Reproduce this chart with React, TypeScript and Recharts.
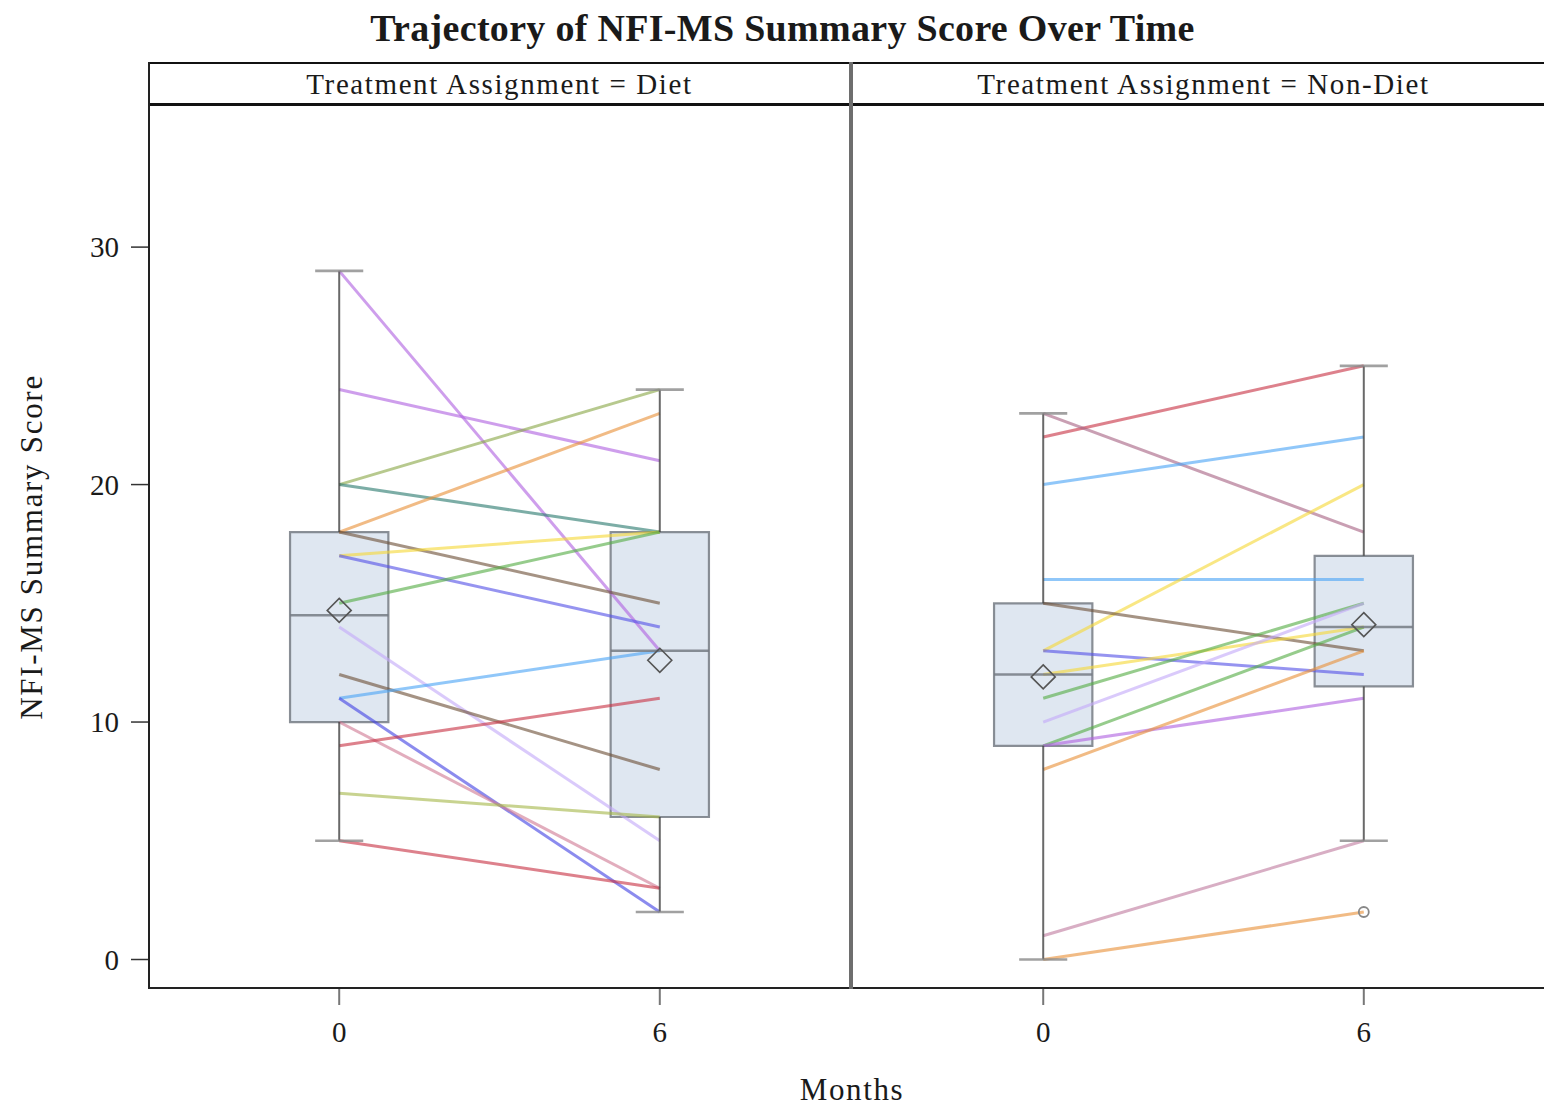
import React from 'react';
import {
  ComposedChart, Line, Scatter, XAxis, YAxis, ReferenceArea, ReferenceLine,
} from 'recharts';

const SERIF = "'Liberation Serif', 'DejaVu Serif', serif";

const MONTHS = [0, 6];
const Y_TICKS = [0, 10, 20, 30];

// ── Subject trajectories (score at month 0 → month 6) ──
const DIET_M0 = [29, 24, 20, 20, 18, 18, 17, 17, 15, 14, 12, 11, 11, 10, 9, 7, 5];
const DIET_M6 = [13, 21, 24, 18, 23, 15, 18, 14, 18, 5, 8, 13, 2, 3, 11, 6, 3];
const DIET_COLORS = [
  '#b063e0', '#b063e0', '#8ba848', '#2b7b70', '#e8923a', '#6e5038',
  '#f5d838', '#5552e6', '#56ad46', '#c4aaf8', '#6e5038', '#4ca4f6',
  '#4444e4', '#d07a94', '#c83446', '#a6b84c', '#c83446',
];

const NONDIET_M0 = [22, 23, 20, 16, 13, 15, 13, 12, 11, 10, 9, 9, 8, 1, 0];
const NONDIET_M6 = [25, 18, 22, 16, 20, 13, 12, 14, 15, 15, 14, 11, 13, 5, 2];
const NONDIET_COLORS = [
  '#c83446', '#a86484', '#4ca4f6', '#4ca4f6', '#f5d838', '#6e5038',
  '#5552e6', '#f5d838', '#56ad46', '#c4aaf8', '#56ad46', '#b063e0',
  '#e8923a', '#c07ca0', '#e8923a',
];

// ── Box statistics per month ──
const DIET_MIN = [5, 2];
const DIET_Q1 = [10, 6];
const DIET_MEDIAN = [14.5, 13];
const DIET_Q3 = [18, 18];
const DIET_MAX = [29, 24];
const DIET_MEAN = [14.7, 12.6];
const DIET_OUTLIERS: number[][] = [[], []];

const NONDIET_MIN = [0, 5];
const NONDIET_Q1 = [9, 11.5];
const NONDIET_MEDIAN = [12, 14];
const NONDIET_Q3 = [15, 17];
const NONDIET_MAX = [23, 25];
const NONDIET_MEAN = [11.9, 14.1];
const NONDIET_OUTLIERS: number[][] = [[], [2]];

const X_DOMAIN: [number, number] = [-3.56, 9.56];
const Y_DOMAIN: [number, number] = [-1.2, 35.9];
const BOX_HALF = 0.92;
const CAP_HALF = 0.45;

const Diamond = (props: any) => {
  const { cx, cy } = props;
  if (cx == null || cy == null) return null;
  const r = 12;
  return (
    <path
      d={`M${cx},${cy - r} L${cx + r},${cy} L${cx},${cy + r} L${cx - r},${cy} Z`}
      fill="none" stroke="#555" strokeWidth={1.6}
    />
  );
};

const Ring = (props: any) => {
  const { cx, cy } = props;
  if (cx == null || cy == null) return null;
  return <circle cx={cx} cy={cy} r={5} fill="none" stroke="#888" strokeWidth={1.8} />;
};

type PanelProps = {
  m0: number[]; m6: number[]; colors: string[];
  min: number[]; q1: number[]; med: number[]; q3: number[]; max: number[];
  mean: number[]; outliers: number[][];
  showY: boolean; width: number;
};

function Panel(p: PanelProps) {
  const subjects = p.m0.map((v, i) => ({
    color: p.colors[i],
    data: [{ x: MONTHS[0], y: v }, { x: MONTHS[1], y: p.m6[i] }],
  }));
  const means = MONTHS.map((m, i) => ({ x: m, y: p.mean[i] }));
  const outs = MONTHS.flatMap((m, i) => p.outliers[i].map(y => ({ x: m, y })));
  const tick = { fontSize: 29, fill: '#1a1a1a', fontFamily: SERIF };

  return (
    <ComposedChart
      width={p.width}
      height={1108}
      margin={{ top: 107, right: 0, bottom: 60, left: 0 }}
    >
      <XAxis
        type="number" dataKey="x" domain={X_DOMAIN} ticks={MONTHS}
        allowDataOverflow axisLine={false} height={60}
        tickSize={17} tickMargin={16}
        tickLine={{ stroke: '#777', strokeWidth: 2 }}
        tick={tick}
      />
      <YAxis
        type="number" dataKey="y" domain={Y_DOMAIN} ticks={Y_TICKS}
        allowDataOverflow hide={!p.showY} width={149}
        axisLine={false} tickSize={18} tickMargin={12}
        tickLine={{ stroke: '#333', strokeWidth: 1.5 }}
        tick={tick}
      />

      {subjects.map((s, i) => (
        <Line
          key={`s${i}`} data={s.data} dataKey="y" type="linear"
          stroke={s.color} strokeWidth={3} strokeOpacity={0.62}
          dot={false} activeDot={false} isAnimationActive={false}
        />
      ))}

      {/* whiskers */}
      {MONTHS.map((m, i) => (
        <ReferenceLine key={`wu${i}`} segment={[{ x: m, y: p.q3[i] }, { x: m, y: p.max[i] }]}
          stroke="#444" strokeWidth={2} strokeOpacity={0.8} />
      ))}
      {MONTHS.map((m, i) => (
        <ReferenceLine key={`wl${i}`} segment={[{ x: m, y: p.min[i] }, { x: m, y: p.q1[i] }]}
          stroke="#444" strokeWidth={2} strokeOpacity={0.8} />
      ))}
      {MONTHS.map((m, i) => (
        <ReferenceLine key={`cu${i}`} segment={[{ x: m - CAP_HALF, y: p.max[i] }, { x: m + CAP_HALF, y: p.max[i] }]}
          stroke="#8a8a8a" strokeWidth={2.6} strokeOpacity={0.8} />
      ))}
      {MONTHS.map((m, i) => (
        <ReferenceLine key={`cl${i}`} segment={[{ x: m - CAP_HALF, y: p.min[i] }, { x: m + CAP_HALF, y: p.min[i] }]}
          stroke="#8a8a8a" strokeWidth={2.6} strokeOpacity={0.8} />
      ))}

      {/* boxes */}
      {MONTHS.map((m, i) => (
        <ReferenceArea
          key={`b${i}`} x1={m - BOX_HALF} x2={m + BOX_HALF} y1={p.q1[i]} y2={p.q3[i]}
          fill="#c0d0e4" fillOpacity={0.5} stroke="#757b84" strokeWidth={2.2} strokeOpacity={0.85}
        />
      ))}
      {MONTHS.map((m, i) => (
        <ReferenceLine key={`md${i}`} segment={[{ x: m - BOX_HALF, y: p.med[i] }, { x: m + BOX_HALF, y: p.med[i] }]}
          stroke="#757b84" strokeWidth={2.6} strokeOpacity={0.85} />
      ))}

      <Scatter data={means} dataKey="y" shape={Diamond} isAnimationActive={false} />
      {outs.length > 0 && (
        <Scatter data={outs} dataKey="y" shape={Ring} isAnimationActive={false} />
      )}
    </ComposedChart>
  );
}

const abs = (s: React.CSSProperties): React.CSSProperties => ({ position: 'absolute', ...s });

export default function App() {
  return (
    <div style={abs({ left: 0, top: 0, width: 1544, height: 1108, overflow: 'hidden', background: '#fff', fontFamily: SERIF, color: '#1a1a1a' })}>
      {/* title */}
      <div style={abs({ left: 0, top: 8, width: 1565, textAlign: 'center', fontSize: 38, fontWeight: 700, lineHeight: '40px', letterSpacing: 0.3 })}>
        Trajectory of NFI-MS Summary Score Over Time
      </div>

      <div style={abs({ left: 0, top: 0 })}>
        <Panel
          m0={DIET_M0} m6={DIET_M6} colors={DIET_COLORS}
          min={DIET_MIN} q1={DIET_Q1} med={DIET_MEDIAN} q3={DIET_Q3} max={DIET_MAX}
          mean={DIET_MEAN} outliers={DIET_OUTLIERS} showY width={850}
        />
      </div>
      <div style={abs({ left: 853, top: 0 })}>
        <Panel
          m0={NONDIET_M0} m6={NONDIET_M6} colors={NONDIET_COLORS}
          min={NONDIET_MIN} q1={NONDIET_Q1} med={NONDIET_MEDIAN} q3={NONDIET_Q3} max={NONDIET_MAX}
          mean={NONDIET_MEAN} outliers={NONDIET_OUTLIERS} showY={false} width={701}
        />
      </div>

      {/* panel headers */}
      <div style={abs({ left: 149, top: 63, width: 701, height: 42, lineHeight: '42px', textAlign: 'center', fontSize: 29, letterSpacing: 1.6 })}>
        Treatment Assignment = Diet
      </div>
      <div style={abs({ left: 853, top: 63, width: 701, height: 42, lineHeight: '42px', textAlign: 'center', fontSize: 29, letterSpacing: 1.6 })}>
        Treatment Assignment = Non-Diet
      </div>

      {/* frame */}
      <div style={abs({ left: 148, top: 62, width: 1420, height: 2, background: '#111' })} />
      <div style={abs({ left: 148, top: 103, width: 1420, height: 3, background: '#111' })} />
      <div style={abs({ left: 148, top: 987, width: 1420, height: 2, background: '#222' })} />
      <div style={abs({ left: 148, top: 62, width: 2, height: 927, background: '#222' })} />
      <div style={abs({ left: 849, top: 62, width: 4, height: 927, background: '#6e6e6e' })} />

      {/* axis labels */}
      <div style={abs({ left: 32 - 250, top: 547 - 20, width: 500, height: 40, lineHeight: '40px', textAlign: 'center', fontSize: 31, letterSpacing: 1.7, transform: 'rotate(-90deg)' })}>
        NFI-MS Summary Score
      </div>
      <div style={abs({ left: 852 - 150, top: 1072, width: 300, height: 36, lineHeight: '36px', textAlign: 'center', fontSize: 31, letterSpacing: 1.6 })}>
        Months
      </div>
    </div>
  );
}
